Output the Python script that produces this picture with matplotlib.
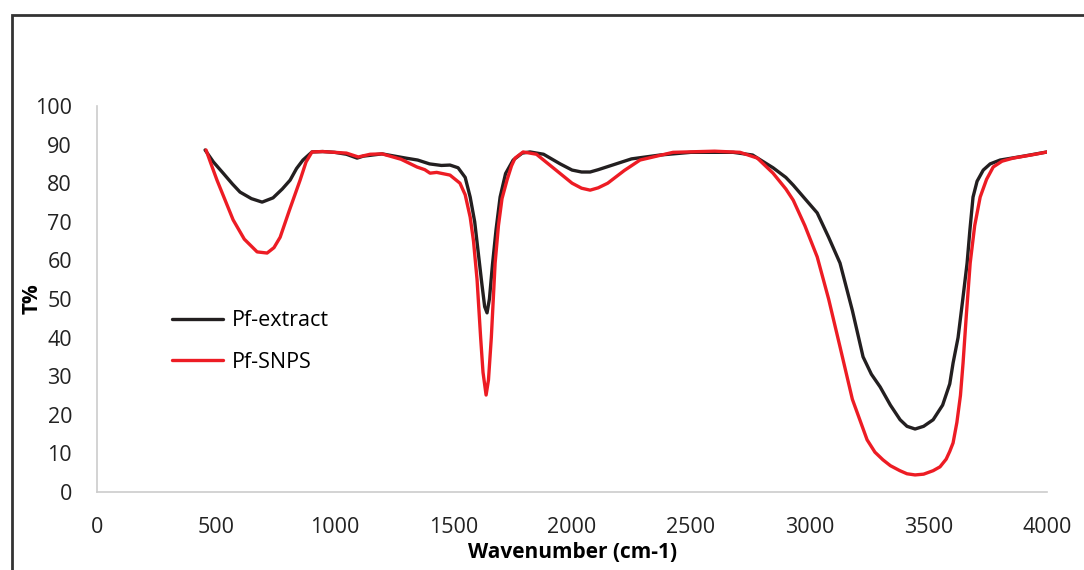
import matplotlib.pyplot as plt
from matplotlib.patches import Rectangle

# FTIR spectra
wn_extract = [455, 490, 531, 570, 602, 650, 695, 741, 780, 813, 840, 867, 905, 950, 1000, 1050,
              1095, 1120, 1200, 1300, 1350, 1400, 1450, 1486, 1520, 1550, 1571, 1590, 1605,
              1620, 1632, 1642, 1652, 1665, 1680, 1697, 1720, 1752, 1790, 1823, 1880, 1950,
              2000, 2040, 2076, 2110, 2150, 2250, 2370, 2500, 2678, 2760, 2846, 2900, 2931,
              2980, 3032, 3080, 3128, 3180, 3225, 3260, 3297, 3340, 3381, 3410, 3444, 3480,
              3520, 3560, 3590, 3604, 3625, 3645, 3663, 3675, 3688, 3705, 3731, 3760, 3802,
              3900, 4000]
t_extract = [88.6, 85.5, 82.6, 79.8, 77.7, 76, 75.1, 76.2, 78.5, 80.8, 83.8, 86, 88.1, 88.2, 88,
             87.5, 86.5, 87, 87.6, 86.5, 86, 85, 84.6, 84.7, 84, 81.5, 76.4, 70, 62,
             54, 48, 46.4, 50, 59, 68, 76.4, 82.5, 86, 87.8, 88.1, 87.5, 85,
             83.4, 82.9, 82.9, 83.5, 84.3, 86.3, 87.3, 88, 88, 87.3, 84, 81.5, 79.5,
             76, 72.3, 66, 59.3, 47, 35, 30.5, 27.2, 22.5, 18.7, 17, 16.3, 17,
             18.7, 22.5, 28, 33.4, 40, 50, 59.3, 68, 76.4, 80.5, 83.4, 85, 86,
             87, 88.1]

wn_snps = [459, 480, 505, 540, 573, 620, 674, 716, 745, 771, 810, 855, 880, 905, 950, 1000,
           1050, 1100, 1150, 1200, 1280, 1347, 1380, 1402, 1430, 1486, 1528, 1550, 1571,
           1585, 1600, 1615, 1625, 1638, 1648, 1660, 1676, 1690, 1705, 1726, 1745, 1760,
           1794, 1850, 1920, 2000, 2040, 2076, 2110, 2150, 2220, 2286, 2425, 2600, 2707,
           2780, 2846, 2900, 2931, 2980, 3032, 3080, 3128, 3180, 3242, 3275, 3309, 3340,
           3380, 3410, 3444, 3480, 3520, 3549, 3575, 3590, 3604, 3620, 3635, 3646, 3660,
           3676, 3695, 3718, 3745, 3773, 3810, 3857, 3950, 4000]
t_snps = [88.6, 85, 80.8, 75.5, 70.5, 65.5, 62.2, 61.9, 63.3, 66, 73, 80.8, 85.5, 88.1, 88.2, 88,
          87.8, 86.8, 87.5, 87.6, 86.2, 84.2, 83.5, 82.6, 82.8, 82.1, 80, 77, 71.2,
          65, 55, 40, 31, 25.1, 29, 40, 59.3, 69, 76, 80.8, 84.5, 86.5,
          88.1, 87.5, 84, 80, 78.7, 78.2, 78.8, 80, 83.3, 86, 88, 88.3, 88,
          86.5, 82.6, 78.5, 75.6, 69, 60.9, 50, 37.6, 24, 13.5, 10.3, 8.3, 6.8,
          5.5, 4.7, 4.4, 4.6, 5.5, 6.5, 8.5, 10.5, 12.7, 18, 25, 33.4, 46,
          59.3, 69, 76.4, 81, 84.2, 85.7, 86.5, 87.5, 88.1]

x_ticks = [0, 500, 1000, 1500, 2000, 2500, 3000, 3500, 4000]
y_ticks = [0, 10, 20, 30, 40, 50, 60, 70, 80, 90, 100]

plt.rcParams['font.family'] = ['Open Sans', 'DejaVu Sans']

fig = plt.figure(figsize=(10.84, 5.70), dpi=100)
ax = fig.add_axes([0.0895, 0.137, 0.8765, 0.677])

ax.plot(wn_extract, t_extract, color='#231f20', lw=2.4, label='Pf-extract',
        solid_capstyle='round', solid_joinstyle='round')
ax.plot(wn_snps, t_snps, color='#ed1c24', lw=2.4, label='Pf-SNPS',
        solid_capstyle='round', solid_joinstyle='round')

ax.set_xlim(0, 4000)
ax.set_ylim(0, 100)
ax.set_xticks(x_ticks)
ax.set_yticks(y_ticks)
ax.tick_params(length=0, labelsize=15.5, colors='#222222')
ax.tick_params(axis='y', pad=18)
ax.tick_params(axis='x', pad=18)
for s in ['top', 'right']:
    ax.spines[s].set_visible(False)
for s in ['left', 'bottom']:
    ax.spines[s].set_color('#cccccc')
    ax.spines[s].set_linewidth(1.2)

ax.set_xlabel('Wavenumber (cm-1)', fontsize=15, fontweight='bold', va='center')
ax.set_ylabel('T%', fontsize=15, fontweight='bold', va='center')
ax.xaxis.set_label_coords(0.5, -0.158)
ax.yaxis.set_label_coords(-0.068, 0.5)

ax.legend(loc='center left', bbox_to_anchor=(0.058, 0.39), frameon=False, fontsize=15.5,
          handlelength=2.4, handletextpad=0.4, labelspacing=0.95)

# outer frame
fig.patches.append(Rectangle((12 / 1084, -0.05), 1.1, 1 - 15 / 570 + 0.05,
                             transform=fig.transFigure, fill=False,
                             edgecolor='#333333', lw=2))

fig.savefig('out.png', dpi=100)
